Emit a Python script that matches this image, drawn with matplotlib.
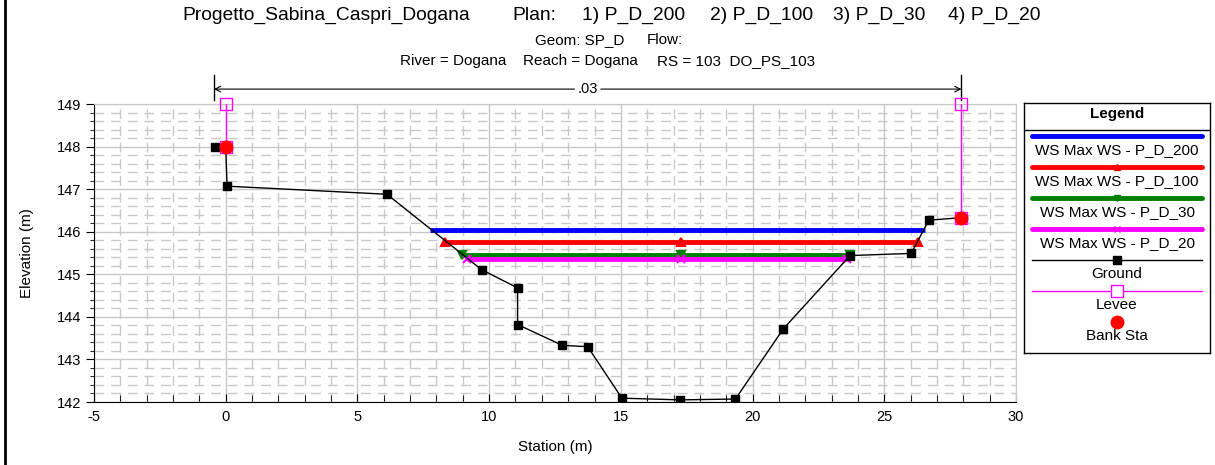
import matplotlib
matplotlib.use("Agg")
import matplotlib.pyplot as plt
from matplotlib.lines import Line2D
from matplotlib.ticker import MultipleLocator

plt.rcParams['font.family'] = ['Liberation Sans', 'DejaVu Sans']
plt.rcParams['axes.unicode_minus'] = False

# ---------------- data ----------------
ground_sta = [-0.42, 0.0, 0.05, 6.12, 9.71, 11.08, 11.08, 12.78, 13.74, 15.04,
              17.26, 19.35, 21.17, 23.70, 26.02, 26.69, 27.92]
ground_elev = [148.0, 148.0, 147.07, 146.88, 145.11, 144.68, 143.82, 143.33, 143.30,
               142.09, 142.05, 142.07, 143.72, 145.44, 145.49, 146.27, 146.33]

ws_labels = ["WS Max WS - P_D_200", "WS Max WS - P_D_100",
             "WS Max WS - P_D_30", "WS Max WS - P_D_20"]
ws_elev = [146.05, 145.77, 145.46, 145.37]
ws_left = [7.75, 8.31, 8.98, 9.15]
ws_right = [26.53, 26.29, 23.70, 23.60]
ws_mid = 17.30

levee_sta = [0.0, 27.92]
levee_top = [149.0, 149.0]
levee_base = [148.0, 146.33]

bank_sta = [0.0, 27.92]
bank_elev = [148.0, 146.33]

n_left, n_right, n_value = -0.45, 27.93, ".03"

title1_parts = ["Progetto_Sabina_Caspri_Dogana", "Plan:", "1) P_D_200",
                "2) P_D_100", "3) P_D_30", "4) P_D_20"]
title2_parts = ["Geom: SP_D", "Flow:"]
title3_parts = ["River = Dogana", "Reach = Dogana", "RS = 103  DO_PS_103"]

# ---------------- styles / layout ----------------
ws_colors = ["#0000ff", "#ff0000", "#008000", "#ff00ff"]
ws_markers = [None, "^", "v", "x"]
title1_x = [182, 512, 582, 710, 833, 948]
title2_x = [535, 647]
title3_x = [400, 523, 657]

W, H = 1215, 465
fig = plt.figure(figsize=(W / 100, H / 100), dpi=100)

def fx(px):
    return px / W

def fy(py):
    return 1 - py / H

ax = fig.add_axes([fx(94), fy(402), fx(1016) - fx(94), fy(104) - fy(402)])
ax.set_xlim(-5, 30)
ax.set_ylim(142, 149)
ax.xaxis.set_major_locator(MultipleLocator(5))
ax.xaxis.set_minor_locator(MultipleLocator(1))
ax.yaxis.set_major_locator(MultipleLocator(1))
ax.yaxis.set_minor_locator(MultipleLocator(0.2))
ax.grid(which='major', color='#c8c8c8', lw=1.0, ls='-')
ax.grid(which='minor', color='#c8c8c8', lw=1.0, ls=(0, (7, 5)))
ax.set_axisbelow(True)
for s in ['top', 'right']:
    ax.spines[s].set_color('#c8c8c8')
for s in ['left', 'bottom']:
    ax.spines[s].set_color('black')
ax.tick_params(axis='x', which='both', direction='in', labelsize=10.5, pad=6)
ax.tick_params(axis='x', which='major', length=6)
ax.tick_params(axis='x', which='minor', length=5)
ax.tick_params(axis='y', which='both', direction='out', labelsize=10.5)
ax.tick_params(axis='y', which='major', length=6)
ax.tick_params(axis='y', which='minor', length=3)
ax.tick_params(top=False, right=False, which='both')
ax.set_xlabel("Station (m)", fontsize=11, labelpad=11)
ax.set_ylabel("Elevation (m)", fontsize=11, labelpad=16)

# water surfaces
for i in range(4):
    xs = [ws_left[i], ws_mid, ws_right[i]]
    ys = [ws_elev[i]] * 3
    ax.plot(xs, ys, color=ws_colors[i], lw=3.5, marker=ws_markers[i], ms=6,
            mew=1.5, zorder=3, solid_capstyle='butt')

# ground
ax.plot(ground_sta, ground_elev, color='black', lw=1.0, marker='s', ms=5.5, zorder=4)

# levees
for s, t, b in zip(levee_sta, levee_top, levee_base):
    ax.plot([s, s], [b, t], color='#ff00ff', lw=1.0, zorder=5)
    ax.plot([s, s], [b, t], ls='none', marker='s', ms=8, mfc='none',
            mec='#ff00ff', mew=1.0, zorder=5, clip_on=False)

# bank stations
ax.plot(bank_sta, bank_elev, ls='none', marker='o', ms=9, color='#ff0000', zorder=6)

# manning n annotation (above plot)
yv0, yv1, ya = 149.68, 149.1, 149.35
for s in [n_left, n_right]:
    ax.plot([s, s], [yv1, yv0], color='black', lw=1.0, clip_on=False)
xm = (n_left + n_right) / 2
ax.annotate("", xy=(n_left, ya), xytext=(xm - 0.5, ya),
            arrowprops=dict(arrowstyle='->', lw=0.8, color='black', shrinkA=0, shrinkB=0),
            annotation_clip=False)
ax.annotate("", xy=(n_right, ya), xytext=(xm + 0.5, ya),
            arrowprops=dict(arrowstyle='->', lw=0.8, color='black', shrinkA=0, shrinkB=0),
            annotation_clip=False)
ax.text(xm, ya, n_value, ha='center', va='center', fontsize=10.5, clip_on=False)

# titles
for t, x in zip(title1_parts, title1_x):
    fig.text(fx(x), fy(15), t, ha='left', va='center', fontsize=13.9)
for t, x in zip(title2_parts, title2_x):
    fig.text(fx(x), fy(40), t, ha='left', va='center', fontsize=11)
for t, x in zip(title3_parts, title3_x):
    fig.text(fx(x), fy(61), t, ha='left', va='center', fontsize=11)

# left border line
fig.add_artist(Line2D([fx(5), fx(5)], [0, 1], color='black', lw=2))

# legend box
lx0, lx1, ly0, ly1 = 1024, 1210, 103, 353
lax = fig.add_axes([fx(lx0), fy(ly1), fx(lx1) - fx(lx0), fy(ly0) - fy(ly1)])
lax.set_xlim(lx0, lx1)
lax.set_ylim(ly1, ly0)
lax.set_xticks([])
lax.set_yticks([])
for s in lax.spines.values():
    s.set_color('black')
    s.set_linewidth(1)
lax.text((lx0 + lx1) / 2, 114, "Legend", ha='center', va='center', fontsize=11, fontweight='bold')
lax.plot([lx0, lx1], [130, 130], color='black', lw=1)
lxa, lxb, lxc = 1032, 1202, 1117
rows = [136, 167, 198, 229]
for i in range(4):
    ly = rows[i]
    lax.plot([lxa, lxb], [ly, ly], color=ws_colors[i], lw=3.5, solid_capstyle='round')
    if ws_markers[i]:
        lax.plot([lxc], [ly], marker=ws_markers[i], color=ws_colors[i], ms=5)
    lax.text(lxc, ly + 14.5, ws_labels[i], ha='center', va='center', fontsize=11)
lax.plot([lxa, lxb], [260, 260], color='black', lw=1)
lax.plot([lxc], [260], marker='s', color='black', ms=5.5)
lax.text(lxc, 274, "Ground", ha='center', va='center', fontsize=11)
lax.plot([lxa, lxb], [291, 291], color='#ff00ff', lw=1)
lax.plot([lxc], [291], marker='s', mfc='white', mec='#ff00ff', ms=8)
lax.text(lxc, 305, "Levee", ha='center', va='center', fontsize=11)
lax.plot([lxc], [322], marker='o', color='#ff0000', ms=9)
lax.text(lxc, 336, "Bank Sta", ha='center', va='center', fontsize=11)

fig.savefig("out.png", dpi=100)
